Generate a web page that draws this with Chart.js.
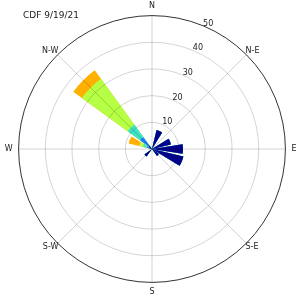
<!DOCTYPE html>
<html>
<head>
    <title>CDF wind rose</title>
    <script src="https://cdn.jsdelivr.net/npm/chart.js"></script>
    <style>
        body { margin: 0; background: #fff; }
        #wrap { position: relative; width: 300px; height: 300px; }
        #title {
            position: absolute; left: 23px; top: 11px;
            font: 9px/9px "DejaVu Sans", sans-serif; color: #222;
            white-space: nowrap;
        }
    </style>
</head>
<body>
    <div id="wrap">
        <canvas id="rose" width="300" height="300"></canvas>
        <div id="title">CDF 9/19/21</div>
    </div>

    <script>
        // 16 compass sectors, clockwise from north
        const directions = ['N', 'NNE', 'NE', 'ENE', 'E', 'ESE', 'SE', 'SSE',
                            'S', 'SSW', 'SW', 'WSW', 'W', 'WNW', 'NW', 'NNW'];
        const compassLabels = ['N', 'N-E', 'E', 'S-E', 'S', 'S-W', 'W', 'N-W'];
        const rTicks = [10, 20, 30, 40, 50];

        // frequency per speed bin (not cumulative)
        //             N  NNE  NE  ENE   E    ESE   SE  SSE S  SSW  SW  WSW W  WNW  NW   NNW
        const bin1 = [0, 7.3, 0, 7.3, 11.6, 12.1, 3.2, 0, 0, 0, 3.5, 0, 0, 1.0, 1.5, 0];
        const bin2 = [0, 0,   0, 0,   0,    0,    0,   0, 0, 0, 0,   0, 0, 1.0, 4.0, 0];
        const bin3 = [0, 0,   0, 0,   0,    0,    0,   0, 0, 0, 0,   0, 0, 1.5, 5.8, 0];
        const bin4 = [0, 0,   0, 0,   0,    0,    0,   0, 0, 0, 0,   0, 0, 1.5, 21.2, 0];
        const bin5 = [0, 0,   0, 0,   0,    0,    0,   0, 0, 0, 0,   0, 0, 4.0, 4.0, 0];

        const bins = [bin1, bin2, bin3, bin4, bin5];
        const binColors = ['#00008b', '#1f84ff', '#3fe3c8', '#b5ff45', '#ffb000'];

        const barWidth = 18;   // degrees of a sector bar
        const gapWidth = 4.5;  // white gap between bars

        // arcs start at north, so the north bar is split into two halves
        const segAngles = [barWidth / 2, gapWidth];
        for (let i = 1; i < directions.length; i++) segAngles.push(barWidth, gapWidth);
        segAngles.push(barWidth / 2);

        function toSegments(values) {
            const out = [values[0], 0];
            for (let i = 1; i < values.length; i++) out.push(values[i], 0);
            out.push(values[0]);
            return out;
        }

        // stacked bars: each dataset holds the running total, the first one is drawn on top
        let running = directions.map(() => 0);
        const datasets = bins.map((b, k) => {
            running = running.map((v, i) => v + b[i]);
            return {
                label: 'bin ' + (k + 1),
                data: toSegments(running),
                backgroundColor: binColors[k],
                borderWidth: 0,
                angle: ctx => segAngles[ctx.dataIndex]
            };
        });

        // upright radius labels at 22.5 deg, like matplotlib
        const rLabelAngle = 22.5;
        const radiusLabels = {
            id: 'radiusLabels',
            afterDraw(chart) {
                const s = chart.scales.r;
                const ctx = chart.ctx;
                const a = rLabelAngle * Math.PI / 180;
                ctx.save();
                ctx.font = '8px "DejaVu Sans"';
                ctx.fillStyle = '#222';
                ctx.textAlign = 'left';
                ctx.textBaseline = 'alphabetic';
                rTicks.forEach(v => {
                    const d = s.getDistanceFromCenterForValue(v);
                    ctx.fillText(String(v), s.xCenter + d * Math.sin(a), s.yCenter - d * Math.cos(a));
                });
                ctx.restore();
            }
        };

        const gridGrey = 'rgba(0,0,0,0.17)';

        new Chart(document.getElementById('rose'), {
            type: 'polarArea',
            data: { labels: compassLabels, datasets: datasets },
            options: {
                responsive: false,
                animation: false,
                layout: { padding: { top: 2, bottom: 2, left: 2, right: -2 } },
                plugins: { legend: { display: false }, tooltip: { enabled: false } },
                scales: {
                    r: {
                        min: 0,
                        max: 50,
                        startAngle: 0,
                        ticks: { display: false, stepSize: 10 },
                        grid: {
                            circular: true,
                            z: 1,
                            color: c => (c.tick && c.tick.value === 50) ? '#333' : gridGrey,
                            lineWidth: 1
                        },
                        angleLines: { display: true, color: gridGrey, lineWidth: 1 },
                        pointLabels: {
                            display: true,
                            color: '#222',
                            font: { family: 'DejaVu Sans', size: 8 },
                            padding: c => [5, -1, 6, -1, 5, -1, 6, -1][c.index]
                        }
                    }
                }
            },
            plugins: [radiusLabels]
        });
    </script>
</body>
</html>
